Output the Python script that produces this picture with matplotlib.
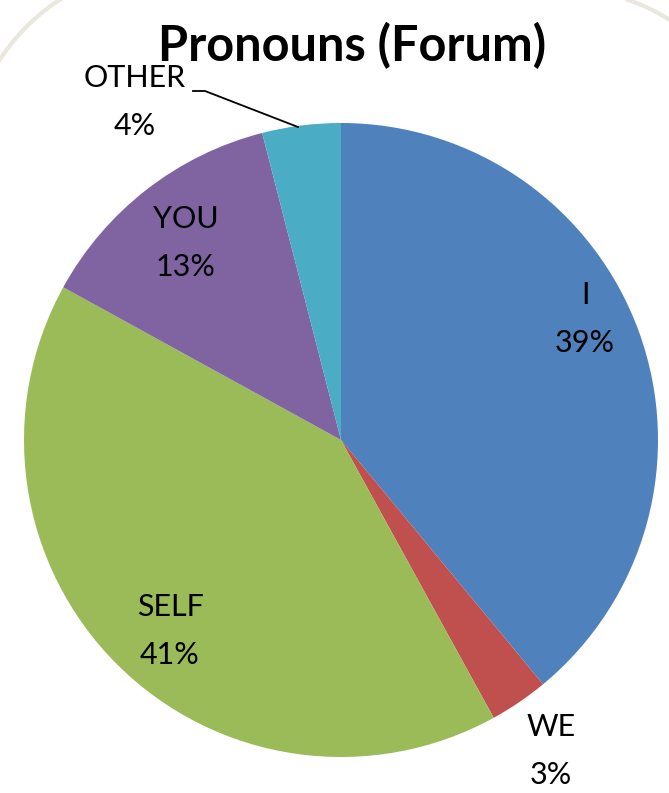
import matplotlib
matplotlib.use("Agg")
import matplotlib.pyplot as plt
import numpy as np

categories = ["I", "WE", "SELF", "YOU", "OTHER"]
values = [39, 3, 41, 13, 4]
colors = ["#4F81BD", "#C0504D", "#9BBB59", "#8064A2", "#4BACC6"]
title = "Pronouns (Forum)"

W, H = 669, 793
fig = plt.figure(figsize=(W / 100, H / 100), dpi=100)
fig.patch.set_facecolor("white")

# faint slide frame: only its two rounded top corners are visible
bg = fig.add_axes([0, 0, 1, 1], zorder=0)
bg.set_xlim(0, W)
bg.set_ylim(H, 0)
bg.axis("off")
corner_r = 200
t = np.radians(np.linspace(90, 180, 100))
bg.plot(168 + corner_r * np.cos(t), 168 - corner_r * np.sin(t),
        color="#e9e7de", lw=3, solid_capstyle="butt")
t = np.radians(np.linspace(0, 90, 100))
bg.plot(563 + corner_r * np.cos(t), 189 - corner_r * np.sin(t),
        color="#e9e7de", lw=3, solid_capstyle="butt")

cx, cy, R = 341, 440, 317
ax = fig.add_axes([(cx - R) / W, (H - cy - R) / H, 2 * R / W, 2 * R / H],
                  zorder=1)
ax.axis("off")

wedges, _ = ax.pie(values, colors=colors, startangle=90, counterclock=False,
                   radius=1, wedgeprops=dict(linewidth=0))
ax.set_xlim(-1, 1)
ax.set_ylim(-1, 1)
ax.set_aspect("equal")

def px(x, y):
    return (x - cx) / R, (cy - y) / R

label_px = [(585, 319), (551, 751), (170, 631), (186, 243), (135, 102)]
font = "Lato"
for cat, v, (lx, ly) in zip(categories, values, label_px):
    x, y = px(lx, ly)
    ax.text(x, y, f"{cat}\n{v}%", ha="center", va="center", fontsize=22,
            family=font, linespacing=1.85, clip_on=False)

# leader line for OTHER
pts = [px(193, 91), px(205, 91), px(298, 127)]
ax.plot([p[0] for p in pts], [p[1] for p in pts], color="black", lw=1.3,
        clip_on=False)

fig.text(352 / W, 1 - 46 / H, title, ha="center", va="center", fontsize=35,
         fontweight="bold", family=font)

fig.savefig("out.png", dpi=100)
